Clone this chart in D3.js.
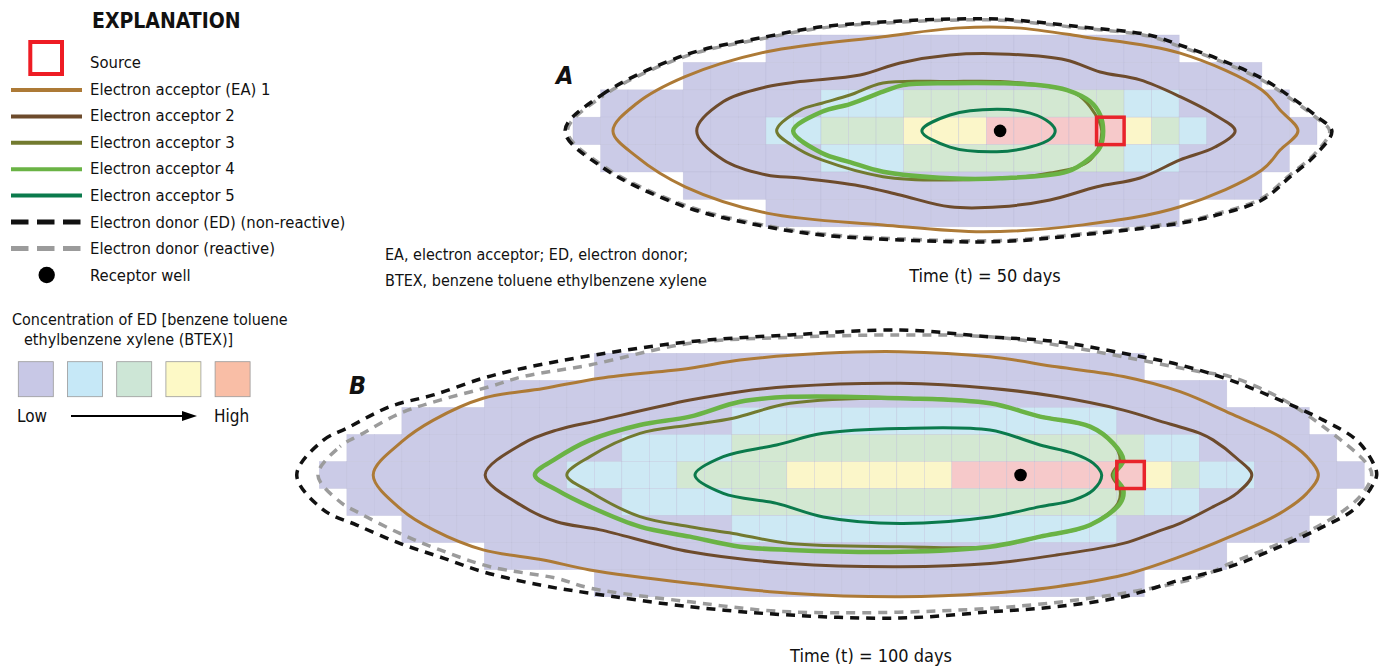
<!DOCTYPE html>
<html>
<head>
<meta charset="utf-8">
<script src="https://cdn.jsdelivr.net/npm/d3@7"></script>
<style>
    body { margin: 0; background: #fff; }
    svg { display: block; }
    text { font-family: 'Liberation Sans Narrow', 'Arial Narrow', 'DejaVu Sans Condensed', sans-serif; fill: #111; }
</style>
</head>
<body>
<div class="chart"></div>
<script>
// legend entries
var lineLabels = ['Electron acceptor (EA) 1', 'Electron acceptor 2', 'Electron acceptor 3',
    'Electron acceptor 4', 'Electron acceptor 5', 'Electron donor (ED) (non-reactive)', 'Electron donor (reactive)'];
var concLevels = ['Low', 'Low-medium', 'Medium', 'Medium-high', 'High'];

// cell runs per row: [first column, last column, concentration level]
var rowsA = [
    [[7, 21, 0]],
    [[4, 24, 0]],
    [[1, 8, 0], [9, 11, 1], [12, 19, 2], [20, 21, 1], [22, 25, 0]],
    [[0, 6, 0], [7, 8, 1], [9, 11, 2], [12, 14, 3], [15, 19, 4], [20, 20, 3], [21, 21, 2], [22, 22, 1], [23, 26, 0]],
    [[1, 8, 0], [9, 11, 1], [12, 19, 2], [20, 21, 1], [22, 25, 0]],
    [[4, 24, 0]],
    [[7, 21, 0]]
];
var rowsB = [
    [[10, 29, 0]],
    [[6, 32, 0]],
    [[3, 14, 0], [15, 28, 1], [29, 35, 0]],
    [[1, 10, 0], [11, 14, 1], [15, 29, 2], [30, 31, 1], [32, 36, 0]],
    [[0, 8, 0], [9, 12, 1], [13, 16, 2], [17, 22, 3], [23, 29, 4], [30, 30, 3], [31, 31, 2], [32, 33, 1], [34, 37, 0]],
    [[1, 10, 0], [11, 14, 1], [15, 29, 2], [30, 31, 1], [32, 36, 0]],
    [[3, 14, 0], [15, 28, 1], [29, 35, 0]],
    [[6, 32, 0]],
    [[10, 29, 0]]
];

// source cell and receptor well [column, row offset]
var sourceA = [19, 0], wellA = [15.5, 0];
var sourceB = [29, 0], wellB = [25.5, 0];

// contours, grid units [column, rows from centre line]
var edNonA = [[-0.29, 0], [1.04, -1.31], [4.07, -2.77], [7.03, -3.44], [9.03, -3.8], [11.87, -4.01], [13.68, -4.08],
    [15.5, -4.08], [18.4, -3.8], [20.9, -3.5], [22.03, -3.13], [23.36, -2.65], [25.0, -1.92], [26.03, -1.25], [27.0, -0.52],
    [27.54, 0], [27.0, 0.82], [26.03, 1.67], [25.0, 2.52], [23.36, 3.07], [22.03, 3.37], [18.4, 3.8], [15.5, 4.04],
    [11.87, 3.98], [9.03, 3.8], [7.03, 3.5], [4.07, 2.77], [1.04, 1.31]];
var edReaA = [[-0.2, 0], [1.08, -1.27], [4.1, -2.73], [7.05, -3.4], [9.05, -3.76], [11.87, -3.97], [13.68, -4.04],
    [15.5, -4.04], [18.4, -3.76], [20.9, -3.46], [22.0, -3.09], [23.33, -2.61], [24.96, -1.88], [25.99, -1.21], [26.95, -0.5],
    [27.46, 0], [26.95, 0.8], [25.99, 1.63], [24.96, 2.48], [23.33, 3.03], [22.0, 3.33], [18.4, 3.76], [15.5, 4.0],
    [11.87, 3.94], [9.05, 3.76], [7.05, 3.46], [4.1, 2.73], [1.08, 1.27]];
var ea1A = [[1.45, 0], [2.31, -1.0], [4.07, -1.98], [7.03, -2.89], [11.25, -3.44], [14.05, -3.76], [16.08, -3.76],
    [18.51, -3.44], [22.03, -2.84], [25.0, -1.49], [25.66, -0.76], [26.31, 0], [25.66, 0.7], [25.0, 1.43], [22.03, 2.77],
    [18.51, 3.43], [14.88, 3.68], [11.25, 3.43], [7.03, 3.0], [4.07, 2.04], [2.31, 0.94]];
var ea2A = [[4.49, 0], [5.46, -1.07], [7.03, -1.61], [8.24, -1.8], [10.42, -2.04], [11.87, -2.48], [13.68, -2.77],
    [15.5, -2.81], [17.89, -2.59], [19.13, -2.15], [20.58, -1.86], [22.03, -1.25], [23.3, -0.58], [24.03, 0],
    [23.3, 0.59], [22.03, 1.06], [20.58, 1.72], [19.02, 2.04], [17.31, 2.52], [15.5, 2.77], [13.68, 2.77], [11.87, 2.34],
    [10.42, 2.01], [8.24, 1.72], [7.03, 1.61], [5.46, 1.06]];
var ea3A = [[7.39, 0], [8.24, -0.76], [9.03, -1.01], [10.05, -1.31], [11.25, -1.75], [13.68, -1.8], [15.5, -1.8],
    [17.31, -1.61], [18.22, -1.38], [18.77, -0.88], [19.19, 0], [18.77, 1.06], [17.31, 1.54], [13.68, 1.79],
    [11.25, 1.67], [9.03, 1.06], [8.24, 0.7]];
var ea4A = [[7.99, 0], [9.03, -0.7], [10.05, -0.98], [11.25, -1.43], [11.98, -1.67], [13.68, -1.74], [15.5, -1.74],
    [16.95, -1.67], [17.93, -1.49], [18.77, -1.07], [19.13, -0.58], [19.24, 0], [19.13, 0.59], [18.77, 0.99],
    [17.93, 1.49], [15.5, 1.73], [13.68, 1.73], [11.25, 1.49], [10.05, 1.14], [9.03, 0.81]];
var ea5A = [[12.66, 0], [13.68, -0.58], [15.38, -0.79], [16.59, -0.65], [17.31, -0.29], [17.5, 0], [17.31, 0.3],
    [16.59, 0.59], [15.38, 0.76], [13.68, 0.59]];

var edNonB = [[-0.82, 0], [0.15, -1.29], [1.0, -1.73], [2.57, -2.53], [4.15, -2.96], [5.96, -3.58], [7.42, -3.95],
    [10.03, -4.44], [13.48, -4.93], [17.12, -5.18], [21.12, -5.36], [24.39, -5.11], [26.81, -4.93], [29.24, -4.5],
    [31.3, -4.07], [33.12, -3.51], [34.93, -2.77], [36.51, -2.03], [37.72, -1.29], [38.33, -0.43], [38.45, 0],
    [38.2, 0.55], [37.6, 1.29], [36.51, 1.91], [34.93, 2.65], [33.12, 3.39], [31.3, 3.88], [29.24, 4.5], [26.81, 4.87],
    [24.39, 5.06], [21.12, 5.29], [17.12, 5.18], [13.48, 4.87], [9.84, 4.37], [8.03, 4.07], [5.96, 3.58], [4.39, 3.03],
    [2.93, 2.53], [1.36, 1.85], [0.15, 1.29]];
var edReaB = [[-0.05, 0], [0.75, -1.05], [1.48, -1.48], [2.93, -2.28], [4.39, -2.77], [6.21, -3.27], [7.41, -3.64],
    [9.84, -4.07], [13.48, -4.87], [17.12, -5.09], [21.12, -5.18], [24.39, -5.11], [26.81, -4.81], [29.24, -4.37],
    [32.03, -3.82], [33.12, -3.64], [34.93, -2.85], [36.51, -1.79], [38.08, -0.43], [38.27, 0], [37.84, 0.8],
    [36.51, 1.79], [34.93, 2.53], [33.12, 3.27], [32.03, 3.76], [29.24, 4.37], [24.39, 4.93], [17.12, 5.06],
    [13.48, 4.69], [9.84, 4.18], [8.63, 3.82], [6.21, 3.39], [4.39, 2.77], [2.93, 2.16], [1.48, 1.42], [0.75, 0.99]];
var ea1B = [[1.96, 0], [3.0, -1.23], [4.15, -2.03], [5.96, -2.84], [8.15, -3.2], [10.21, -3.58], [13.48, -3.95],
    [15.3, -4.25], [18.33, -4.5], [21.12, -4.56], [24.39, -4.37], [26.81, -4.0], [29.24, -3.64], [31.3, -3.08],
    [33.12, -2.28], [34.93, -1.42], [35.91, -0.68], [36.33, 0], [35.91, 0.68], [34.93, 1.42], [33.12, 2.28],
    [31.3, 3.02], [29.24, 3.7], [26.81, 4.13], [24.39, 4.37], [21.12, 4.5], [17.12, 4.37], [13.48, 4.0], [9.84, 3.51],
    [8.15, 3.14], [5.96, 2.77], [4.15, 2.03], [3.0, 1.29]];
var ea2B = [[6.03, 0], [7.42, -1.17], [8.63, -1.66], [10.21, -2.03], [13.48, -2.77], [15.3, -3.08], [17.12, -3.27],
    [21.12, -3.39], [24.39, -3.21], [26.81, -2.9], [29.24, -2.4], [30.45, -2.03], [32.03, -1.54], [32.51, -1.29],
    [33.36, -0.62], [33.91, 0], [33.36, 0.68], [32.51, 1.17], [31.3, 1.79], [30.45, 2.1], [29.24, 2.53], [26.81, 2.96],
    [24.39, 3.27], [21.12, 3.39], [17.12, 3.27], [13.48, 2.84], [10.21, 2.03], [8.63, 1.73], [7.42, 1.17]];
var ea3B = [[9.0, 0], [9.84, -0.68], [11.66, -1.54], [13.48, -1.85], [15.05, -2.1], [17.12, -2.65], [21.12, -2.84],
    [24.39, -2.65], [26.21, -2.16], [28.03, -1.79], [28.87, -1.17], [29.12, -0.55], [28.83, 0], [29.12, 0.55],
    [29.04, 1.05], [28.03, 1.85], [26.21, 2.28], [24.39, 2.65], [21.12, 2.65], [17.12, 2.53], [15.05, 2.16],
    [13.48, 1.91], [11.66, 1.54], [9.84, 0.62]];
var ea4B = [[7.84, 0], [8.63, -0.62], [9.84, -1.29], [11.66, -1.85], [13.48, -2.16], [15.3, -2.71], [17.12, -2.89],
    [21.12, -2.84], [24.39, -2.65], [26.21, -2.16], [28.03, -1.79], [28.87, -1.17], [29.24, -0.55], [28.91, 0],
    [29.24, 0.55], [29.12, 1.05], [28.03, 1.85], [26.21, 2.28], [24.39, 2.65], [21.12, 2.84], [17.12, 2.77],
    [15.3, 2.65], [13.48, 2.28], [11.66, 1.91], [9.84, 1.17], [8.63, 0.55]];
var ea5B = [[13.66, 0], [14.69, -0.68], [16.63, -1.11], [18.33, -1.54], [21.12, -1.72], [24.39, -1.66], [26.21, -1.11],
    [27.42, -0.8], [28.15, -0.43], [28.45, 0], [28.15, 0.55], [27.42, 0.93], [26.21, 1.17], [24.39, 1.55],
    [21.12, 1.79], [18.33, 1.55], [16.63, 1.05], [14.69, 0.68]];

var cellColors = ['#cbcbe7', '#cde9f4', '#d3e8d2', '#fbf6c9', '#f6c9ca'];
var swatchColors = ['#c8c8e6', '#c6e8f7', '#cde6d6', '#fdf9c6', '#f9bea6'];
var lineStyles = [
    { color: '#ad7a36', width: 3 },
    { color: '#6d4b2c', width: 3 },
    { color: '#727a2f', width: 3 },
    { color: '#6ab345', width: 4.5 },
    { color: '#0b7a4c', width: 3 },
    { color: '#111', width: 3.5, dash: '9,7' },
    { color: '#9b9b9b', width: 3.5, dash: '9,7' }
];

var svg = d3.select('.chart')
    .append('svg')
    .attr('width', 1387)
    .attr('height', 669);

drawLegend();

drawPanel({
    rows: rowsA,
    x: d3.scaleLinear().domain([0, 27]).range([573, 1317]),
    y: d3.scaleLinear().domain([-3.5, 3.5]).range([35, 226.8]),
    lines: [ea1A, ea2A, ea3A, ea4A, ea5A, edNonA, edReaA],
    source: sourceA,
    well: wellA
});

drawPanel({
    rows: rowsB,
    x: d3.scaleLinear().domain([0, 38]).range([319.3, 1364.3]),
    y: d3.scaleLinear().domain([-4.5, 4.5]).range([353.3, 596.7]),
    lines: [ea1B, ea2B, ea3B, ea4B, ea5B, edNonB, edReaB],
    source: sourceB,
    well: wellB
});

function drawPanel(p) {
    var g = svg.append('g');
    var half = p.rows.length / 2;

    var cells = [];
    p.rows.forEach(function(runs, r) {
        runs.forEach(function(run) {
            for (var c = run[0]; c <= run[1]; c++) {
                cells.push({ c: c, r: r - half, level: run[2] });
            }
        });
    });

    g.selectAll('.cell')
        .data(cells)
        .enter()
        .append('rect')
        .attr('class', 'cell')
        .attr('x', function(d) { return p.x(d.c); })
        .attr('y', function(d) { return p.y(d.r); })
        .attr('width', function(d) { return p.x(d.c + 1) - p.x(d.c); })
        .attr('height', function(d) { return p.y(d.r + 1) - p.y(d.r); })
        .attr('fill', function(d) { return cellColors[d.level]; })
        .attr('stroke', '#b4b4d2')
        .attr('stroke-opacity', 0.45)
        .attr('stroke-width', 0.6);

    var line = d3.line()
        .x(function(d) { return p.x(d[0]); })
        .y(function(d) { return p.y(d[1]); })
        .curve(d3.curveCatmullRomClosed.alpha(0.5));

    // dashed donor outlines below the acceptor lines
    var order = [6, 5, 0, 1, 2, 3, 4];
    order.forEach(function(i) {
        var s = lineStyles[i];
        g.append('path')
            .datum(p.lines[i])
            .attr('d', line)
            .attr('fill', 'none')
            .attr('stroke', s.color)
            .attr('stroke-width', s.width)
            .attr('stroke-linejoin', 'round')
            .attr('stroke-dasharray', s.dash || null)
            .attr('stroke-dashoffset', i === 6 ? 8 : 0);
    });

    g.append('rect')
        .attr('x', p.x(p.source[0]))
        .attr('y', p.y(p.source[1] - 0.5))
        .attr('width', p.x(p.source[0] + 1) - p.x(p.source[0]))
        .attr('height', p.y(p.source[1] + 0.5) - p.y(p.source[1] - 0.5))
        .attr('fill', 'none')
        .attr('stroke', '#e8242b')
        .attr('stroke-width', 3.5);

    g.append('circle')
        .attr('cx', p.x(p.well[0]))
        .attr('cy', p.y(p.well[1]))
        .attr('r', 6.3)
        .attr('fill', '#000');
}

function drawLegend() {
    var g = svg.append('g');

    g.append('text')
        .attr('x', 92)
        .attr('y', 28)
        .attr('font-size', 21)
        .attr('font-weight', 'bold')
        .text('EXPLANATION');

    g.append('rect')
        .attr('x', 30.3)
        .attr('y', 42)
        .attr('width', 31.7)
        .attr('height', 32)
        .attr('fill', 'none')
        .attr('stroke', '#ee1c24')
        .attr('stroke-width', 4);

    var labels = ['Source'].concat(lineLabels).concat(['Receptor well']);
    g.selectAll('.label')
        .data(labels)
        .enter()
        .append('text')
        .attr('class', 'label')
        .attr('x', 90)
        .attr('y', function(d, i) { return 68 + i * 26.6; })
        .attr('font-size', 16.5)
        .text(function(d) { return d; });

    g.selectAll('.key')
        .data(lineStyles)
        .enter()
        .append('line')
        .attr('class', 'key')
        .attr('x1', 11)
        .attr('x2', 82)
        .attr('y1', function(d, i) { return 90 + i * 26.4; })
        .attr('y2', function(d, i) { return 90 + i * 26.4; })
        .attr('stroke', function(d) { return d.color; })
        .attr('stroke-width', function(d) { return d.dash ? 5 : 4; })
        .attr('stroke-dasharray', function(d) { return d.dash ? '17.5,8.5' : null; });

    g.append('circle')
        .attr('cx', 46.7)
        .attr('cy', 275)
        .attr('r', 8.2)
        .attr('fill', '#000');

    g.append('text')
        .attr('x', 12)
        .attr('y', 325)
        .attr('font-size', 16)
        .text('Concentration of ED [benzene toluene');
    g.append('text')
        .attr('x', 24)
        .attr('y', 345)
        .attr('font-size', 16)
        .text('ethylbenzene xylene (BTEX)]');

    g.selectAll('.swatch')
        .data(concLevels)
        .enter()
        .append('rect')
        .attr('class', 'swatch')
        .attr('x', function(d, i) { return 18.3 + i * 49.2; })
        .attr('y', 361.7)
        .attr('width', 35)
        .attr('height', 35)
        .attr('fill', function(d, i) { return swatchColors[i]; })
        .attr('stroke', '#9a9a9a')
        .attr('stroke-width', 0.8);

    g.append('text').attr('x', 17).attr('y', 422).attr('font-size', 17).text('Low');
    g.append('text').attr('x', 214).attr('y', 422).attr('font-size', 17).text('High');

    g.append('line')
        .attr('x1', 71).attr('x2', 184)
        .attr('y1', 416).attr('y2', 416)
        .attr('stroke', '#000')
        .attr('stroke-width', 2);
    g.append('path')
        .attr('d', 'M182,411 L197,416 L182,421 Z')
        .attr('fill', '#000');

    // notes and panel titles
    g.append('text').attr('x', 385).attr('y', 260).attr('font-size', 16).text('EA, electron acceptor; ED, electron donor;');
    g.append('text').attr('x', 385).attr('y', 286).attr('font-size', 16).text('BTEX, benzene toluene ethylbenzene xylene');

    g.append('text').attr('x', 985).attr('y', 282).attr('font-size', 18)
        .attr('text-anchor', 'middle').text('Time (t) = 50 days');
    g.append('text').attr('x', 871).attr('y', 662).attr('font-size', 18)
        .attr('text-anchor', 'middle').text('Time (t) = 100 days');

    g.append('text').attr('x', 556).attr('y', 84).attr('font-size', 25)
        .attr('font-weight', 'bold').attr('font-style', 'italic').text('A');
    g.append('text').attr('x', 349).attr('y', 394).attr('font-size', 25)
        .attr('font-weight', 'bold').attr('font-style', 'italic').text('B');
}
</script>
</body>
</html>
